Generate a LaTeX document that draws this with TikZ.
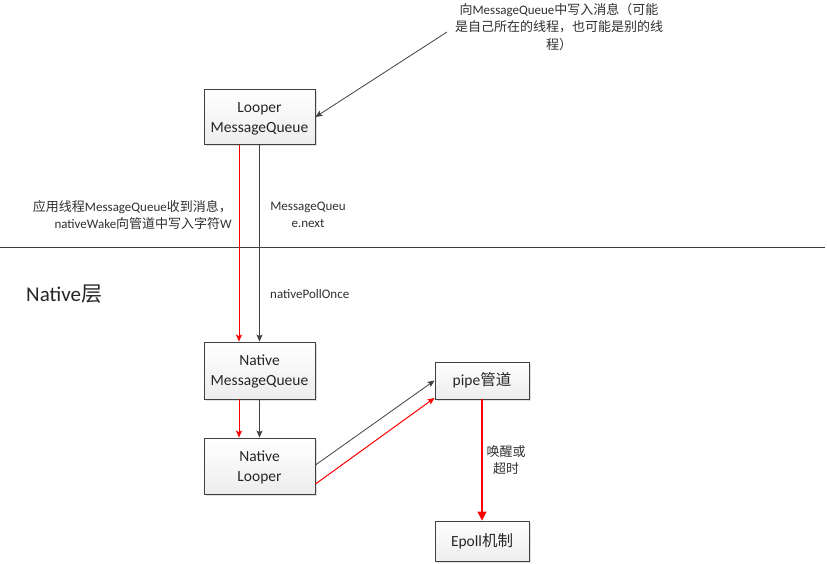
\documentclass[tikz,border=0pt]{standalone}
\usepackage{fontspec}
\setmainfont{Carlito}
\newfontfamily\cjkfont{Noto Sans CJK SC}
\newcommand{\zht}[1]{{\cjkfont #1}}
\newcommand{\toppad}{\rule{0pt}{13pt}}
\usetikzlibrary{arrows.meta,shadows}
\definecolor{edgegray}{HTML}{404040}
\definecolor{txtgray}{HTML}{303030}
\begin{document}
\begin{tikzpicture}[x=1pt,y=-1pt,
  box/.style={draw=edgegray, line width=0.9pt, top color=white, bottom color=gray!14,
    drop shadow={shadow xshift=1.6pt,shadow yshift=-1.6pt,fill=gray!45,opacity=0.55},
    font=\fontsize{15.5}{20}\selectfont, text=black!85, align=center, inner sep=0pt},
  small/.style={font=\fontsize{13}{17.5}\selectfont, text=txtgray, inner sep=0pt},
  blk/.style={draw=edgegray, line width=0.8pt, -{Stealth[length=7pt,width=6pt,inset=1.5pt]}},
  redarr/.style={draw=red, line width=1pt, -{Stealth[length=7pt,width=6pt,inset=1.5pt]}},
  bigred/.style={draw=red, line width=1.1pt, -{Triangle[length=9pt,width=9pt]}}]
\useasboundingbox[fill=white] (0,0) rectangle (827,564);

% divider
\coordinate (hl1) at (0,247);
\coordinate (hl2) at (825,247);
\draw[edgegray, line width=0.8pt] (hl1) -- (hl2);

% boxes
\node[box, minimum width=111pt, minimum height=55pt] (lmq) at (259.5,117) {\toppad Looper\\MessageQueue};
\node[box, minimum width=111pt, minimum height=57pt] (nmq) at (259.5,370.5) {\toppad Native\\MessageQueue};
\node[box, minimum width=111pt, minimum height=56pt] (nl) at (259.5,466) {\toppad Native\\Looper};
\node[box, minimum width=94pt, minimum height=37pt] (pipe) at (482,380.5) {pipe\zht{管道}};
\node[box, minimum width=94pt, minimum height=40pt] (epoll) at (482,541) {Epoll\zht{机制}};

% texts
\node[small, align=center] (note) at (559,27) {\zht{向}MessageQueue\zht{中写入消息（可能}\\\zht{是自己所在的线程，也可能是别的线}\\\zht{程）}};
\coordinate (notestart) at (447,32);
\node[small, align=right, anchor=east] (lbl1) at (232,215) {\zht{应用线程}MessageQueue\zht{收到消息，}\\nativeWake\zht{向管道中写入字符}W};
\node[small, align=center] (lbl2) at (308,215) {MessageQueu\\e.next};
\node[small, anchor=west] (lbl3) at (270,294) {nativePollOnce};
\node[font=\fontsize{21}{24}\selectfont, text=black!85, anchor=west, inner sep=0pt] (native) at (26,294) {Native\zht{层}};
\node[small, align=center] (lbl4) at (506,460) {\zht{唤醒或}\\\zht{超时}};

% connectors
\draw[blk] (notestart) -- (lmq.east);
\draw[redarr] ([xshift=-20.5pt]lmq.south) -- ([xshift=-20.5pt]nmq.north);
\draw[blk] (lmq.south) -- (nmq.north);
\draw[redarr] ([xshift=-20.5pt]nmq.south) -- ([xshift=-20.5pt]nl.north);
\draw[blk] (nmq.south) -- (nl.north);
\draw[blk] ([yshift=1pt]nl.east) -- (pipe.west);
\draw[redarr] ([yshift=-18pt]nl.east) -- ([yshift=1.5pt]pipe.south west);
\draw[bigred] (pipe.south) -- (epoll.north);
\end{tikzpicture}
\end{document}
